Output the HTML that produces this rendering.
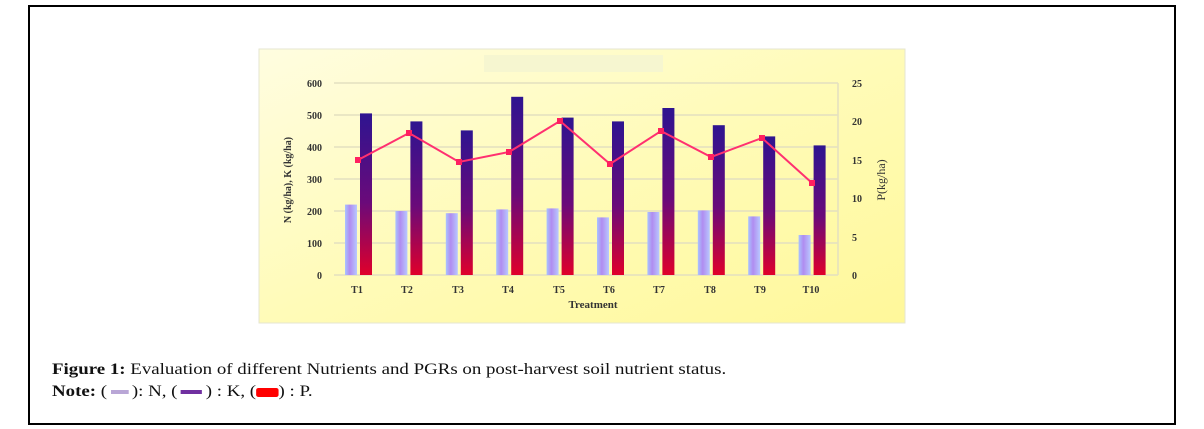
<!DOCTYPE html>
<html><head><meta charset="utf-8"><style>
body{margin:0;background:#fff;width:1204px;height:429px;overflow:hidden;position:relative;font-family:"Liberation Serif",serif}
.box{position:absolute;left:28px;top:5px;width:1144px;height:416px;border:2px solid #000}
.cap{position:absolute;left:52px;font-size:16px;color:#111;transform:scaleX(1.18);transform-origin:0 0;white-space:nowrap}
</style></head><body>
<div class="box"></div>
<svg width="1204" height="429" style="position:absolute;left:0;top:0">
<defs>
<linearGradient id="bg" x1="0" y1="0" x2="1" y2="1"><stop offset="0" stop-color="#fffde0"/><stop offset="0.5" stop-color="#fffbb8"/><stop offset="1" stop-color="#fff89a"/></linearGradient>
<linearGradient id="gn" x1="0" y1="0" x2="1" y2="0"><stop offset="0" stop-color="#a9c4ff"/><stop offset="0.4" stop-color="#b08cf0"/><stop offset="1" stop-color="#b8c8ff"/></linearGradient>
<linearGradient id="gk" x1="0" y1="0" x2="0" y2="1"><stop offset="0" stop-color="#2e1490"/><stop offset="0.55" stop-color="#6a0a7a"/><stop offset="1" stop-color="#e0002a"/></linearGradient>
</defs>
<rect x="259" y="49" width="646" height="274" fill="url(#bg)" stroke="#e6e6d0"/>
<rect x="484" y="55" width="179" height="17" fill="#f6f6d0"/>
<g stroke="#e4e0c0" stroke-width="1.5">
<line x1="334" y1="83" x2="838" y2="83"/><line x1="334" y1="115" x2="838" y2="115"/><line x1="334" y1="147" x2="838" y2="147"/><line x1="334" y1="179" x2="838" y2="179"/><line x1="334" y1="211" x2="838" y2="211"/><line x1="334" y1="243" x2="838" y2="243"/><line x1="334" y1="275" x2="838" y2="275"/>
<line x1="838" y1="83" x2="838" y2="275"/>
</g>
<g font-family="Liberation Serif,serif" font-weight="bold" font-size="10" fill="#333" text-anchor="end">
<text x="322" y="87">600</text><text x="322" y="119">500</text><text x="322" y="151">400</text><text x="322" y="183">300</text><text x="322" y="215">200</text><text x="322" y="247">100</text><text x="322" y="279">0</text>
</g>
<g font-family="Liberation Serif,serif" font-weight="bold" font-size="10" fill="#333">
<text x="852" y="87">25</text><text x="852" y="125">20</text><text x="852" y="164">15</text><text x="852" y="202">10</text><text x="852" y="241">5</text><text x="852" y="279">0</text>
</g>
<text transform="translate(291,180) rotate(-90)" font-family="Liberation Serif,serif" font-weight="bold" font-size="10" fill="#333" text-anchor="middle">N (kg/ha), K (kg/ha)</text>
<text transform="translate(885,180) rotate(-90)" font-family="Liberation Serif,serif" font-size="12" fill="#333" text-anchor="middle">P(kg/ha)</text>
<text x="593" y="308" font-family="Liberation Serif,serif" font-weight="bold" font-size="11" fill="#333" text-anchor="middle">Treatment</text>
<g font-family="Liberation Serif,serif" font-weight="bold" font-size="10" fill="#333" text-anchor="middle">
<text x="357" y="293">T1</text><text x="407" y="293">T2</text><text x="458" y="293">T3</text><text x="508" y="293">T4</text><text x="559" y="293">T5</text><text x="609" y="293">T6</text><text x="659" y="293">T7</text><text x="710" y="293">T8</text><text x="760" y="293">T9</text><text x="811" y="293">T10</text>
</g>
<g>
<rect x="345" y="204.6" width="12" height="70.4" fill="url(#gn)"/><rect x="360" y="113.4" width="12" height="161.6" fill="url(#gk)"/>
<rect x="395.4" y="211" width="12" height="64" fill="url(#gn)"/><rect x="410.4" y="121.4" width="12" height="153.6" fill="url(#gk)"/>
<rect x="445.8" y="213.2" width="12" height="61.8" fill="url(#gn)"/><rect x="460.8" y="130.4" width="12" height="144.6" fill="url(#gk)"/>
<rect x="496.2" y="209.4" width="12" height="65.6" fill="url(#gn)"/><rect x="511.2" y="96.8" width="12" height="178.2" fill="url(#gk)"/>
<rect x="546.6" y="208.4" width="12" height="66.6" fill="url(#gn)"/><rect x="561.6" y="117.6" width="12" height="157.4" fill="url(#gk)"/>
<rect x="597" y="217.4" width="12" height="57.6" fill="url(#gn)"/><rect x="612" y="121.4" width="12" height="153.6" fill="url(#gk)"/>
<rect x="647.4" y="212" width="12" height="63" fill="url(#gn)"/><rect x="662.4" y="108" width="12" height="167" fill="url(#gk)"/>
<rect x="697.8" y="210.4" width="12" height="64.6" fill="url(#gn)"/><rect x="712.8" y="125.2" width="12" height="149.8" fill="url(#gk)"/>
<rect x="748.2" y="216.4" width="12" height="58.6" fill="url(#gn)"/><rect x="763.2" y="136.4" width="12" height="138.6" fill="url(#gk)"/>
<rect x="798.6" y="235" width="12" height="40" fill="url(#gn)"/><rect x="813.6" y="145.4" width="12" height="129.6" fill="url(#gk)"/>
</g>
<polyline fill="none" stroke="#ff3070" stroke-width="2" points="358,160 409,133 459,162 509,152 560,121 610,164 661,131 711,157 762,138 812,183"/>
<g fill="#ff2060">
<rect x="355" y="157" width="6" height="6"/><rect x="406" y="130" width="6" height="6"/><rect x="456" y="159" width="6" height="6"/><rect x="506" y="149" width="6" height="6"/><rect x="557" y="118" width="6" height="6"/><rect x="607" y="161" width="6" height="6"/><rect x="658" y="128" width="6" height="6"/><rect x="708" y="154" width="6" height="6"/><rect x="759" y="135" width="6" height="6"/><rect x="809" y="180" width="6" height="6"/>
</g>
</svg>
<div class="cap" style="top:361px"><b>Figure 1:</b> Evaluation of different Nutrients and PGRs on post-harvest soil nutrient status.</div>
<div class="cap" style="top:383px"><b>Note:</b> (<span style="display:inline-block;width:15px;height:4px;background:#b9a6d6;vertical-align:middle;margin:0 3px"></span>): N, (<span style="display:inline-block;width:18px;height:4px;background:#7030a0;vertical-align:middle;margin:0 3px"></span>) : K, (<span style="display:inline-block;width:19px;height:9px;background:#ff0000;vertical-align:middle;border-radius:2px"></span>) : P.</div>
</body></html>
